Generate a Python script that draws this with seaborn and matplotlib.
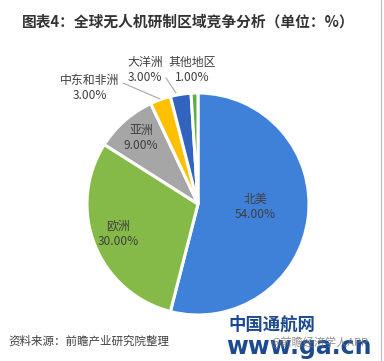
import numpy as np
import matplotlib
matplotlib.use("Agg")
import matplotlib.pyplot as plt
import seaborn as sns

# data
regions = ["北美", "欧洲", "亚洲", "中东和非洲", "大洋洲", "其他地区"]
shares = [54.0, 30.0, 9.0, 3.0, 3.0, 1.0]
colors = ["#3F80D8", "#86BA48", "#A6A6A6", "#FFC000", "#3263BE", "#5DAE48"]

sns.set_theme(style="white")
plt.rcParams['font.family'] = ['Noto Sans CJK SC', 'DejaVu Sans']

W, H = 384, 361
fig = plt.figure(figsize=(W / 100, H / 100), dpi=100)

# pie centre (px) and radius (px)
cx, cy, R = 198, 204, 111
RA = 150
L = RA / R
ax = fig.add_axes([(cx - RA) / W, (H - cy - RA) / H, 2 * RA / W, 2 * RA / H])

wedges, _ = ax.pie(shares, colors=colors, startangle=90, counterclock=False,
                   radius=1.0, wedgeprops=dict(edgecolor="white", linewidth=2.2))
# pie() resets the limits, so set them afterwards
ax.set_xlim(-L, L)
ax.set_ylim(-L, L)
ax.set_aspect("equal")
ax.axis("off")

def px(x, y):
    return ((x - cx) / R, (cy - y) / R)

labcol = "#404040"
fs = 8.6

# labels inside the wedges
inside = {0: (255, 207), 1: (118, 234), 2: (141, 138)}
for i, (x, y) in inside.items():
    ax.text(*px(x, y), f"{regions[i]}\n{shares[i]:.2f}%", ha="center", va="center",
            fontsize=fs, color=labcol, linespacing=1.25)

# outside labels with leader lines
outside = {3: ((90, 88), (123, 83), (160, 99)),
           4: ((145, 70), (166, 78), (176, 93)),
           5: ((192, 70), None, None)}
for i, (pos, p0, p1) in outside.items():
    ax.text(*px(*pos), f"{regions[i]}\n{shares[i]:.2f}%", ha="center", va="center",
            fontsize=fs, color=labcol, linespacing=1.15)
    if p0 is not None:
        xa, ya = px(*p0)
        xb, yb = px(*p1)
        ax.plot([xa, xb], [ya, yb], color="#A6A6A6", lw=0.8, clip_on=False)

# title and source
fig.text(22 / W, 1 - 22 / H, "图表4：全球无人机研制区域竞争分析（单位：%）",
         ha="left", va="center", fontsize=10.6, fontweight="bold", color="#333333")
fig.text(8 / W, 1 - 341 / H, "资料来源：前瞻产业研究院整理", ha="left", va="center",
         fontsize=8.3, color="#404040", style="italic")

# watermark text at bottom right
fig.text(228 / W, 1 - 325 / H, "中国通航网", ha="left", va="center",
         fontsize=12.5, fontweight="bold", color="#1D4A8F")
fig.text(226 / W, 1 - 347 / H, "www.ga.cn", ha="left", va="center",
         fontsize=17, fontweight="bold", color="#1D4A8F", family="DejaVu Sans")
fig.text(270 / W, 1 - 342 / H, "@前瞻经济学人APP", ha="left", va="center",
         fontsize=8, color="#777777", alpha=0.8)

# thin border at the right
fig.add_artist(plt.Line2D([381 / W, 381 / W], [0, 1], color="#BBBBBB", lw=0.8))

fig.savefig("out.png", dpi=100)
